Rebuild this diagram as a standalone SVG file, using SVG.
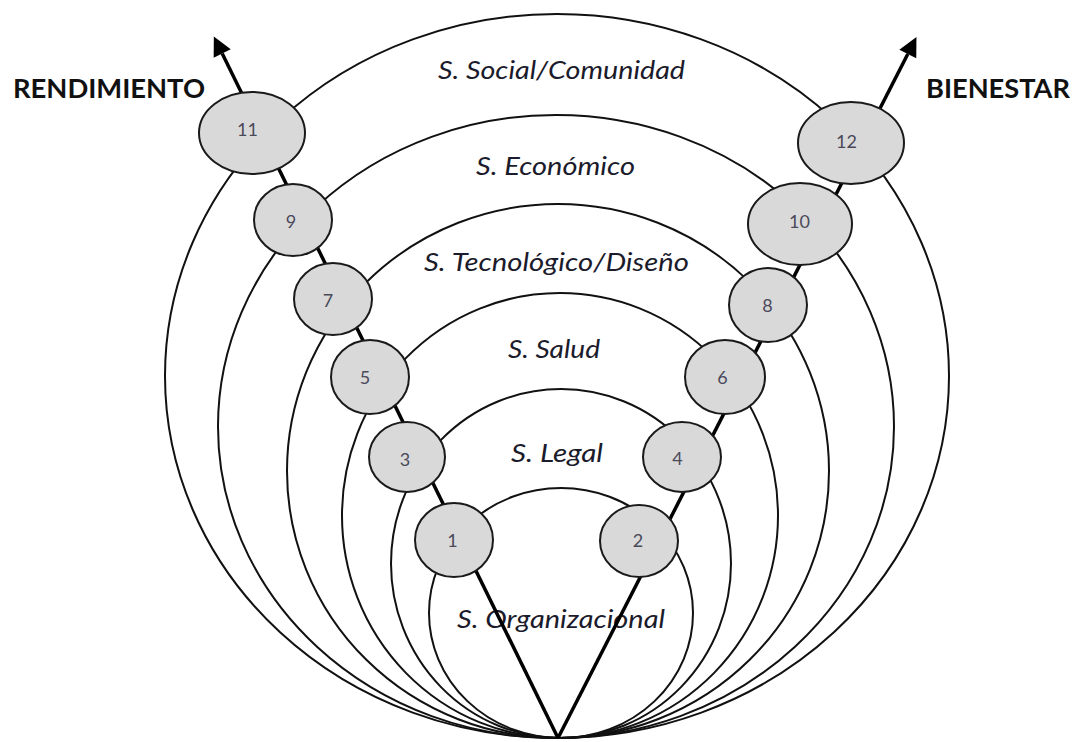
<svg xmlns="http://www.w3.org/2000/svg" width="1075" height="742" viewBox="0 0 1075 742">
<defs>
<style>
.arch{fill:none;stroke:#111;stroke-width:2}
.conn{fill:none;stroke:#000;stroke-width:3.5}
.node ellipse{fill:#d9d9d9;stroke:#1a1a1a;stroke-width:2}
.num{font-family:Lato,"Liberation Sans",sans-serif;font-size:18px;fill:#4a4a5a;text-anchor:middle}
.sph{font-family:Lato,"Liberation Sans",sans-serif;font-style:italic;font-size:26px;fill:#1b1b2b}
.side{font-family:Lato,"Liberation Sans",sans-serif;font-weight:bold;font-size:26px;fill:#111}
</style>
<marker id="ah" markerUnits="userSpaceOnUse" orient="auto" refX="0" refY="0" markerWidth="20" markerHeight="20" viewBox="0 -10 20 20" overflow="visible">
<path d="M0,-9.5 L19,0 L0,9.5 z" fill="#000"/>
</marker>
</defs>
<rect width="1075" height="742" fill="#fff"/>
<g id="sphere-social"><ellipse class="arch" cx="557" cy="376" rx="392" ry="362"/><text class="sph" x="438" y="79" textLength="247" lengthAdjust="spacingAndGlyphs">S. Social/Comunidad</text></g>
<g id="sphere-economico"><ellipse class="arch" cx="556" cy="426.5" rx="338" ry="311.5"/><text class="sph" x="476" y="175" textLength="159" lengthAdjust="spacingAndGlyphs">S. Económico</text></g>
<g id="sphere-tecnologico"><ellipse class="arch" cx="558" cy="471" rx="271" ry="267"/><text class="sph" x="424" y="271" textLength="265" lengthAdjust="spacingAndGlyphs">S. Tecnológico/Diseño</text></g>
<g id="sphere-salud"><ellipse class="arch" cx="560" cy="515.5" rx="218" ry="222.5"/><text class="sph" x="508" y="358" textLength="92" lengthAdjust="spacingAndGlyphs">S. Salud</text></g>
<g id="sphere-legal"><ellipse class="arch" cx="561" cy="563.5" rx="170" ry="174.5"/><text class="sph" x="511" y="462" textLength="92" lengthAdjust="spacingAndGlyphs">S. Legal</text></g>
<g id="sphere-organizacional"><ellipse class="arch" cx="561" cy="613" rx="132" ry="125"/><text class="sph" x="457" y="628" textLength="208" lengthAdjust="spacingAndGlyphs">S. Organizacional</text></g>
<g id="connectors">
<path class="conn" d="M558,738 L222.2,53.5" marker-end="url(#ah)"/>
<path class="conn" d="M558,738 L907.8,54" marker-end="url(#ah)"/>
</g>
<g id="node-1" class="node"><ellipse cx="454" cy="540" rx="39" ry="37"/><text class="num" x="452.5" y="547">1</text></g>
<g id="node-2" class="node"><ellipse cx="639" cy="541" rx="39" ry="36"/><text class="num" x="638" y="547">2</text></g>
<g id="node-3" class="node"><ellipse cx="407" cy="457" rx="38" ry="35"/><text class="num" x="405" y="466">3</text></g>
<g id="node-4" class="node"><ellipse cx="682" cy="457" rx="39" ry="35"/><text class="num" x="677.5" y="465">4</text></g>
<g id="node-5" class="node"><ellipse cx="370" cy="377" rx="39" ry="37"/><text class="num" x="365" y="384">5</text></g>
<g id="node-6" class="node"><ellipse cx="725" cy="377" rx="40" ry="37"/><text class="num" x="722.5" y="384">6</text></g>
<g id="node-7" class="node"><ellipse cx="333" cy="299" rx="39" ry="36"/><text class="num" x="328" y="307">7</text></g>
<g id="node-8" class="node"><ellipse cx="768" cy="305" rx="39" ry="37"/><text class="num" x="767.5" y="312">8</text></g>
<g id="node-9" class="node"><ellipse cx="293" cy="220" rx="39" ry="36"/><text class="num" x="291" y="228">9</text></g>
<g id="node-10" class="node"><ellipse cx="800" cy="224" rx="52" ry="41"/><text class="num" x="799.5" y="228">10</text></g>
<g id="node-11" class="node"><ellipse cx="252" cy="133" rx="53" ry="41"/><text class="num" x="247.5" y="136">11</text></g>
<g id="node-12" class="node"><ellipse cx="851" cy="143" rx="53" ry="41"/><text class="num" x="846.5" y="148">12</text></g>
<g id="labels">
<text class="side" x="13" y="98" textLength="192" lengthAdjust="spacingAndGlyphs">RENDIMIENTO</text>
<text class="side" x="926" y="98" textLength="144" lengthAdjust="spacingAndGlyphs">BIENESTAR</text>
</g>
</svg>
